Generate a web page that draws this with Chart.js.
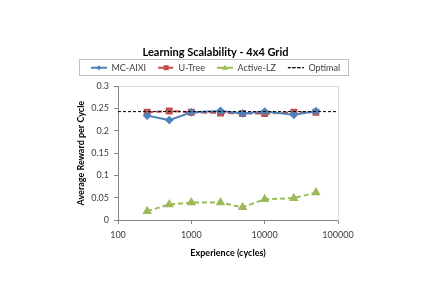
<!DOCTYPE html>
<html>
<head>
<meta charset="utf-8">
<script src="https://cdn.jsdelivr.net/npm/chart.js@4"></script>
<style>
  html, body { margin: 0; padding: 0; background: #fff; }
  #wrap { width: 427px; height: 302px; }
</style>
</head>
<body>
<div id="wrap"><canvas id="myChart" width="427" height="302"></canvas></div>
<script>
// experience (cycles) on the x axis
const cycles = [250, 500, 1000, 2500, 5000, 10000, 25000, 50000];
const mcAixi = [0.234, 0.224, 0.2415, 0.2445, 0.239, 0.243, 0.236, 0.244];
const uTree = [0.2415, 0.2445, 0.2415, 0.24, 0.239, 0.2385, 0.2415, 0.2415];
const activeLz = [0.0195, 0.035, 0.039, 0.039, 0.0285, 0.0465, 0.049, 0.0615];
const optimalValue = 0.243;
const optimalRange = [100, 100000];
const xTicks = [100, 1000, 10000, 100000];

const toPoints = (ys) => ys.map((y, i) => ({ x: cycles[i], y: y }));

// box round the legend + markers on the legend lines
const legendExtras = {
    id: 'legendExtras',
    afterDraw(chart) {
        const lg = chart.legend;
        if (!lg || !lg.legendHitBoxes.length) return;
        const ctx = chart.ctx;
        const boxes = lg.legendHitBoxes;
        const left = Math.min(...boxes.map(b => b.left)) - 12;
        const right = Math.max(...boxes.map(b => b.left + b.width)) + 8;
        const top = boxes[0].top - 4;
        const bottom = boxes[0].top + boxes[0].height + 3;
        ctx.save();
        ctx.strokeStyle = '#bfbfbf';
        ctx.lineWidth = 1;
        ctx.strokeRect(Math.round(left) + 0.5, Math.round(top) + 0.5, Math.round(right - left), Math.round(bottom - top));
        boxes.forEach((b, i) => {
            const ds = chart.data.datasets[lg.legendItems[i].datasetIndex];
            if (!ds.pointRadius) return;
            const cx = b.left + lg.options.labels.boxWidth / 2;
            const cy = b.top + b.height / 2;
            ctx.fillStyle = ds.pointBackgroundColor;
            const r = ds.pointRadius * 0.85;
            ctx.beginPath();
            if (ds.pointStyle === 'rectRot') {
                ctx.moveTo(cx, cy - r); ctx.lineTo(cx + r, cy); ctx.lineTo(cx, cy + r); ctx.lineTo(cx - r, cy);
            } else if (ds.pointStyle === 'rect') {
                const s = r * 0.85;
                ctx.rect(cx - s, cy - s, s * 2, s * 2);
            } else {
                ctx.moveTo(cx, cy - r); ctx.lineTo(cx + r, cy + r * 0.7); ctx.lineTo(cx - r, cy + r * 0.7);
            }
            ctx.closePath();
            ctx.fill();
        });
        ctx.restore();
    }
};

let myChart = document.getElementById('myChart').getContext('2d');
let lineChart = new Chart(myChart, {
    type: 'line',
    data: {
        datasets: [{
            label: 'MC-AIXI',
            data: toPoints(mcAixi),
            borderColor: '#4f81bd',
            backgroundColor: '#4f81bd',
            pointBackgroundColor: '#4f81bd',
            pointBorderColor: '#4f81bd',
            pointStyle: 'rectRot',
            pointRadius: 3,
            borderWidth: 2
        }, {
            label: 'U-Tree',
            data: toPoints(uTree),
            borderColor: '#c0504d',
            backgroundColor: '#c0504d',
            pointBackgroundColor: '#c0504d',
            pointBorderColor: '#c0504d',
            pointStyle: 'rect',
            pointRadius: 3.5,
            borderWidth: 2,
            borderDash: [6, 3]
        }, {
            label: 'Active-LZ',
            data: toPoints(activeLz),
            borderColor: '#9bbb59',
            backgroundColor: '#9bbb59',
            pointBackgroundColor: '#9bbb59',
            pointBorderColor: '#9bbb59',
            pointStyle: 'triangle',
            pointRadius: 3.5,
            borderWidth: 2,
            borderDash: [5, 3]
        }, {
            label: 'Optimal',
            data: optimalRange.map(x => ({ x: x, y: optimalValue })),
            borderColor: '#000',
            backgroundColor: '#000',
            pointRadius: 0,
            borderWidth: 1,
            borderDash: [3, 2],
            order: -1
        }]
    },
    options: {
        responsive: false,
        animation: false,
        layout: { padding: { left: 24, right: 20, top: 0, bottom: 40 } },
        plugins: {
            title: {
                display: true,
                text: 'Learning Scalability - 4x4 Grid',
                color: '#000',
                font: { family: 'Lato', size: 11, weight: 'bold' },
                padding: { top: 46, bottom: -8 }
            },
            legend: {
                position: 'top',
                labels: {
                    boxWidth: 16,
                    boxHeight: 0,
                    padding: 12,
                    color: '#404040',
                    font: { family: 'Lato', size: 9 },
                    sort: (a, b) => a.datasetIndex - b.datasetIndex
                }
            },
            tooltip: { enabled: false }
        },
        scales: {
            x: {
                type: 'logarithmic',
                min: 100,
                max: 100000,
                afterBuildTicks: (axis) => { axis.ticks = xTicks.map(v => ({ value: v })); },
                afterFit: (axis) => { axis.height = 42; },
                ticks: {
                    color: '#404040',
                    font: { family: 'Lato', size: 9 },
                    padding: 6,
                    maxRotation: 0,
                    callback: (v) => String(v)
                },
                grid: { drawOnChartArea: false, tickLength: 4, color: '#868686' },
                border: { color: '#868686' },
                title: {
                    display: true,
                    text: 'Experience (cycles)',
                    color: '#000',
                    font: { family: 'Lato', size: 9, weight: 'bold' },
                    padding: { top: 4 }
                }
            },
            // top edge of the plot area, also keeps the gap under the legend
            xTop: {
                type: 'linear',
                position: 'top',
                min: 0,
                max: 1,
                afterFit: (axis) => { axis.height = 4; },
                ticks: { display: false },
                grid: { display: false },
                border: { color: '#d9d9d9' }
            },
            y: {
                min: 0,
                max: 0.3,
                afterFit: (axis) => { axis.width = 94; },
                ticks: {
                    stepSize: 0.05,
                    color: '#404040',
                    font: { family: 'Lato', size: 9 },
                    padding: 5,
                    callback: (v) => String(Math.round(v * 100) / 100)
                },
                grid: { drawOnChartArea: false, tickLength: 4, color: '#868686' },
                border: { color: '#868686' },
                title: {
                    display: true,
                    text: 'Average Reward per Cycle',
                    color: '#000',
                    font: { family: 'Lato', size: 9, weight: 'bold' },
                    padding: { top: 52, bottom: 0 }
                }
            },
            // right-hand edge of the plot area
            yRight: {
                position: 'right',
                min: 0,
                max: 0.3,
                afterFit: (axis) => { axis.width = 69; },
                ticks: { display: false },
                grid: { display: false },
                border: { color: '#d9d9d9' }
            }
        }
    },
    plugins: [legendExtras]
});
</script>
</body>
</html>
